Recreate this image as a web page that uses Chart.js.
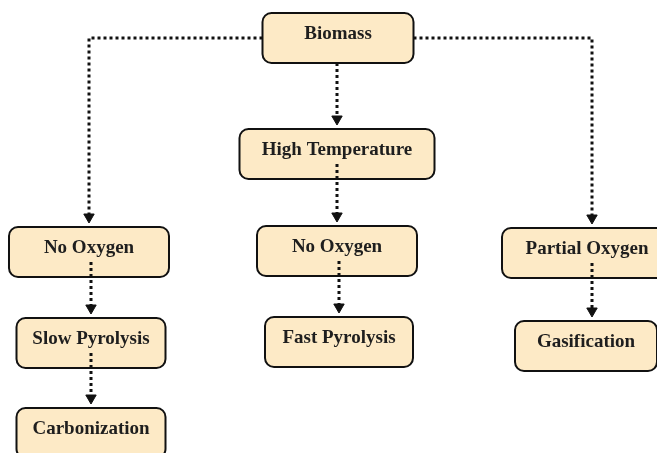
<!DOCTYPE html>
<html>
<head>
<meta charset="utf-8">
<script src="https://cdn.jsdelivr.net/npm/chart.js@4"></script>
<style>
  html, body { margin: 0; padding: 0; background: #fff; overflow: hidden; }
  canvas { display: block; }
</style>
</head>
<body>
<canvas id="flow" width="657" height="453"></canvas>
<script>
'use strict';

// ── data ────────────────────────────────────────────────────────────────────

const nodeLabels = ['Biomass', 'High Temperature', 'No Oxygen', 'No Oxygen', 'Partial Oxygen',
                    'Slow Pyrolysis', 'Fast Pyrolysis', 'Carbonization', 'Gasification'];
const nodeX = [338, 337, 89, 337, 587, 91, 339, 91, 586];
const nodeY = [38, 154, 252, 251, 253, 343, 342, 433, 346];
// parent -> child links
const linkFrom = [0, 0, 0, 1, 2, 3, 4, 5];
const linkTo   = [2, 1, 4, 3, 5, 6, 8, 7];

// ── drawing config ──────────────────────────────────────────────────────────

const BOX_W = [151, 195, 160, 160, 170, 149, 148, 149, 142];
const BOX_H = 50;
const FILL = '#fdeac6';
const INK = '#111';
const ARROW_R = 6;
const RIGHT_NUDGE = 5;   // right-hand branch runs a little right of the box centres

function boxTop(i) { return nodeY[i] - BOX_H / 2; }
function boxBottom(i) { return nodeY[i] + BOX_H / 2; }

// x of the dotted line that runs through each node
const lineX = nodeX.slice();
linkFrom.forEach((p, k) => {
  const c = linkTo[k];
  if (nodeX[c] - nodeX[p] > 20) lineX[c] = nodeX[c] + RIGHT_NUDGE;
  else if (Math.abs(nodeX[c] - nodeX[p]) <= 20) lineX[c] = lineX[p] === nodeX[p] ? nodeX[c] : lineX[p];
});

function linkPoints(p, c) {
  const tipY = boxTop(c) - 4 - ARROW_R;
  if (Math.abs(nodeX[p] - nodeX[c]) > 20) {
    // elbow: leave the parent sideways, then drop onto the child
    const side = nodeX[c] < nodeX[p] ? -1 : 1;
    const startX = nodeX[p] + side * BOX_W[p] / 2;
    return [
      { x: startX, y: nodeY[p] },
      { x: lineX[c], y: nodeY[p] },
      { x: lineX[c], y: tipY },
    ];
  }
  const startY = p === 0 ? boxBottom(p) : nodeY[p] + 10;
  return [{ x: lineX[c], y: startY }, { x: lineX[c], y: tipY }];
}

const datasets = linkFrom.map((p, k) => {
  const pts = linkPoints(p, linkTo[k]);
  return {
    type: 'line',
    data: pts,
    borderColor: INK,
    borderWidth: 3,
    borderDash: [3, 3],
    borderCapStyle: 'butt',
    tension: 0,
    fill: false,
    pointRadius: pts.map((_, j) => j === pts.length - 1 ? ARROW_R : 0),
    pointStyle: 'triangle',
    rotation: 180,
    pointBackgroundColor: INK,
    pointBorderColor: INK,
    pointBorderWidth: 1,
  };
});

// boxes and labels go under the dotted links
const boxPlugin = {
  id: 'boxes',
  beforeDatasetsDraw(chart) {
    const { ctx, scales: { x, y } } = chart;
    ctx.save();
    nodeLabels.forEach((label, i) => {
      const cx = x.getPixelForValue(nodeX[i]);
      const cy = y.getPixelForValue(nodeY[i]);
      const w = BOX_W[i], h = BOX_H;
      ctx.beginPath();
      ctx.roundRect(cx - w / 2, cy - h / 2, w, h, 9);
      ctx.fillStyle = FILL;
      ctx.fill();
      ctx.lineWidth = 2;
      ctx.strokeStyle = INK;
      ctx.stroke();
      ctx.fillStyle = '#1e1e1e';
      ctx.font = 'bold 19px "Liberation Serif", "Times New Roman", serif';
      ctx.textAlign = 'center';
      ctx.textBaseline = 'middle';
      ctx.fillText(label, cx, cy - 4);
    });
    ctx.restore();
  },
};

new Chart(document.getElementById('flow'), {
  type: 'scatter',
  data: { datasets },
  plugins: [boxPlugin],
  options: {
    responsive: false,
    animation: false,
    layout: { padding: 0, autoPadding: false },
    plugins: { legend: { display: false }, tooltip: { enabled: false } },
    scales: {
      x: { type: 'linear', min: 0, max: 657, display: false },
      y: { type: 'linear', min: 0, max: 453, reverse: true, display: false },
    },
    events: [],
  },
});
</script>
</body>
</html>
